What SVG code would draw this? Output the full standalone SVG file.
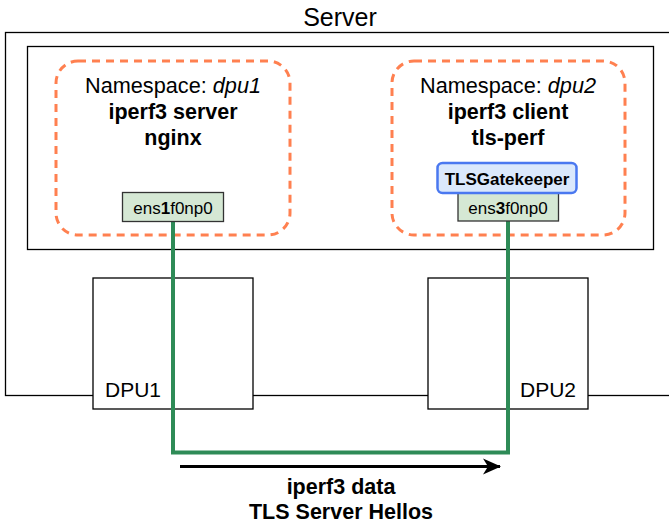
<svg xmlns="http://www.w3.org/2000/svg" width="669" height="525" viewBox="0 0 669 525">
<style>
text{font-family:"Liberation Sans",Arial,sans-serif;fill:#000}
.c{text-anchor:middle}
.b{font-weight:bold}
.ns{fill:none;stroke:#ff8050;stroke-width:3;stroke-dasharray:8 6}
.box{fill:#fff;stroke:#000;stroke-width:1.3}
.port{fill:#d5e8d4;stroke:#333;stroke-width:1.3}
.link{fill:none;stroke:#2e8b57;stroke-width:4}
</style>
<defs>
<marker id="arr" viewBox="0 0 20 20" refX="17" refY="10" markerWidth="20" markerHeight="20" markerUnits="userSpaceOnUse" orient="auto">
<path d="M0,2 L18,10 L0,18 L5,10 Z" fill="#000"/>
</marker>
</defs>
<g id="server">
<rect x="5.5" y="32.5" width="680" height="363" fill="#fff" stroke="#000" stroke-width="1.3"/>
<text class="c" x="340" y="26" font-size="25">Server</text>
</g>
<g id="host">
<rect x="27.5" y="46.5" width="626" height="203" class="box"/>
</g>
<g id="ns-dpu1">
<rect x="56" y="61" width="234" height="174" rx="22" class="ns"/>
<text class="c" x="173" y="93" font-size="21.7">Namespace: <tspan font-style="italic">dpu1</tspan></text>
<text class="c b" x="173" y="119" font-size="21.5">iperf3 server</text>
<text class="c b" x="173" y="145" font-size="21.5">nginx</text>
</g>
<g id="ns-dpu2">
<rect x="392" y="61" width="233" height="174" rx="22" class="ns"/>
<text class="c" x="508" y="93" font-size="21.7">Namespace: <tspan font-style="italic">dpu2</tspan></text>
<text class="c b" x="508" y="119" font-size="21.5">iperf3 client</text>
<text class="c b" x="508" y="145" font-size="21.5">tls-perf</text>
</g>
<g id="dpu1">
<rect x="93" y="278" width="160" height="131" class="box"/>
<text x="105" y="397" font-size="21">DPU1</text>
</g>
<g id="dpu2">
<rect x="428" y="278" width="160" height="131" class="box"/>
<text x="576" y="397" font-size="21" text-anchor="end">DPU2</text>
</g>
<g id="connectors">
<polyline class="link" points="173,221 173,452.5 508,452.5 508,221"/>
<line x1="180" y1="466.5" x2="500" y2="466.5" stroke="#000" stroke-width="3" marker-end="url(#arr)"/>
</g>
<g id="ens1f0np0">
<rect x="122.5" y="192.5" width="101" height="29" class="port"/>
<text class="c" x="173" y="214" font-size="17">ens<tspan font-weight="bold">1</tspan>f0np0</text>
</g>
<g id="ens3f0np0">
<rect x="458" y="192.5" width="100.5" height="28.5" class="port"/>
<text class="c" x="508" y="214" font-size="17">ens<tspan font-weight="bold">3</tspan>f0np0</text>
</g>
<g id="tlsgatekeeper">
<rect x="437.5" y="163" width="139" height="30" rx="5" fill="#dae8fc" stroke="#4a78f0" stroke-width="2.5"/>
<text class="c b" x="507" y="185" font-size="17">TLSGatekeeper</text>
</g>
<g id="label">
<text class="c b" x="341" y="494" font-size="21.5">iperf3 data</text>
<text class="c b" x="341" y="519" font-size="21.5">TLS Server Hellos</text>
</g>
</svg>
